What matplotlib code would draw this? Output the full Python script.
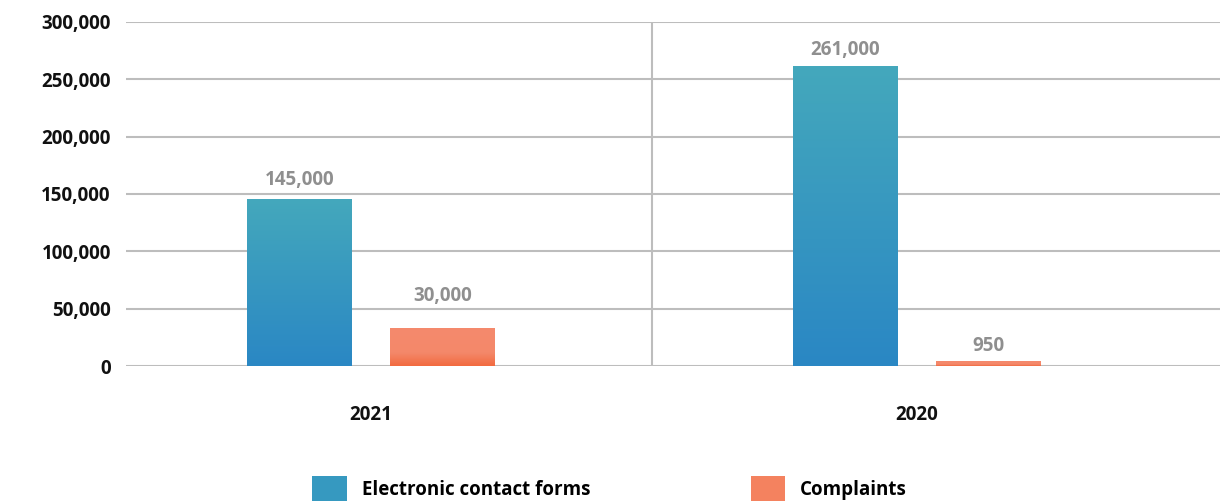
import matplotlib.pyplot as plt
import numpy as np
from matplotlib.colors import LinearSegmentedColormap
from matplotlib.patches import Patch

plt.rcParams['font.family'] = ['Open Sans', 'DejaVu Sans']

# data
years = ["2021", "2020"]
series_names = ["Electronic contact forms", "Complaints"]
contact_forms = [145000, 261000]
complaints = [33000, 3500]          # drawn heights (small bar has a minimum visible height)
contact_labels = ["145,000", "261,000"]
complaint_labels = ["30,000", "950"]
y_ticks = [0, 50000, 100000, 150000, 200000, 250000, 300000]
y_tick_labels = ["0", "50,000", "100,000", "150,000", "200,000", "250,000", "300,000"]

blue_cmap = LinearSegmentedColormap.from_list("b", ["#2a87c4", "#44a8bc"])
orange_cmap = LinearSegmentedColormap.from_list("o", [(0, "#f26a3f"), (0.35, "#f4886a"), (1, "#f58a6d")])

FS = 13.5

fig = plt.figure(figsize=(12.24, 5.03), dpi=100)
ax = fig.add_axes([126 / 1224, 1 - 366 / 503, 1094 / 1224, 344 / 503])

x = np.arange(len(years))
width = 0.192
offset = 0.131


def gradient_bars(xs, vals, cmap):
    bars = ax.bar(xs, vals, width, color="none", zorder=3)
    grad = np.linspace(0, 1, 256).reshape(-1, 1)
    for b in bars:
        x0, w, h = b.get_x(), b.get_width(), b.get_height()
        ax.imshow(grad, cmap=cmap, origin="lower", aspect="auto",
                  extent=(x0, x0 + w, 0, h), zorder=3)
    return bars


b1 = gradient_bars(x - offset, contact_forms, blue_cmap)
b2 = gradient_bars(x + offset, complaints, orange_cmap)

# label gap above each bar, in points
for bars, labels, pads in [(b1, contact_labels, [7, 4.5]), (b2, complaint_labels, [16, 4])]:
    for b, lab, pad in zip(bars, labels, pads):
        ax.annotate(lab, (b.get_x() + b.get_width() / 2, b.get_height()),
                    xytext=(0, pad), textcoords="offset points", ha="center", va="bottom",
                    fontsize=FS, fontweight="bold", color="#8f8f8f")

ax.set_xlim(-0.449, 1.555)
ax.set_ylim(0, 300000)
ax.set_yticks(y_ticks)
ax.set_yticklabels(y_tick_labels, fontsize=FS, fontweight="bold", color="#111111")
ax.set_xticks(x)
ax.set_xticklabels(years, fontsize=FS, fontweight="bold", color="#111111")
ax.tick_params(axis="both", length=0)
ax.tick_params(axis="y", pad=11)
ax.tick_params(axis="x", pad=28)
for s in ax.spines.values():
    s.set_visible(False)
ax.yaxis.grid(True, color="#bdbdbd", linewidth=1.5, zorder=0)
ax.set_axisbelow(True)
ax.axvline(0.515, color="#bdbdbd", linewidth=1.5, zorder=1)

handles = [Patch(facecolor="#3699c0"), Patch(facecolor="#f4825f")]
fig.legend(handles, series_names, loc="upper left", bbox_to_anchor=(312 / 1224, 1 - 476 / 503),
           ncol=2, frameon=False, prop={"weight": "bold", "size": FS},
           handlelength=1.85, handleheight=1.7, handletextpad=0.8, columnspacing=8.55,
           borderpad=0, borderaxespad=0)

fig.savefig("out.png", dpi=100)
